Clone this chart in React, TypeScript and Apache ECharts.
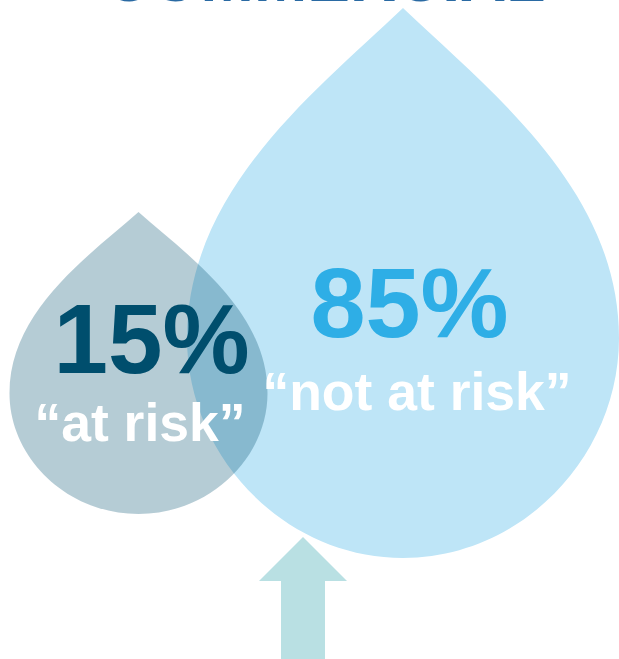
import React, { useEffect, useRef } from "react";
import * as echarts from "echarts";

const TITLE = "COMMERCIAL";
const SHARES = ["15%", "85%"];
const LABELS = ["“at risk”", "“not at risk”"];

// Unit drop on a 1000-unit grid: tip at (0,0), base at (0,1000), widest at x = ±1000.
const DROP_PATH =
  "M0 0 C400 150 1000 330 1000 600 C1000 815 550 1000 0 1000 C-550 1000 -1000 815 -1000 600 C-1000 330 -400 150 0 0 Z";
const ARROW_PATH = "M303 537 L347 581 L325 581 L325 659 L281 659 L281 581 L259 581 Z";

echarts.graphic.registerShape("drop", echarts.graphic.extendPath(DROP_PATH, {}));
echarts.graphic.registerShape("upArrow", echarts.graphic.extendPath(ARROW_PATH, {}));

const FONT = '"Liberation Sans", Arial, sans-serif';

// Places a bold label by its baseline; text boxes are anchored at their top edge.
function label(text: string, x: number, baseline: number, size: number, fill: string) {
  return {
    type: "text",
    x,
    y: baseline - 0.88 * size,
    z: 10,
    style: { text, fill, font: `bold ${size}px ${FONT}`, align: "center" },
  };
}

export default function App() {
  const ref = useRef<HTMLDivElement>(null);

  useEffect(() => {
    document.body.style.margin = "0";
    const chart = echarts.init(ref.current!, undefined, { renderer: "svg" });
    chart.setOption({
      animation: false,
      graphic: {
        elements: [
          label(TITLE, 325, 3, 64, "#2a6aa3"),
          {
            type: "drop",
            x: 403,
            y: 8,
            scaleX: 216 / 1000,
            scaleY: 550 / 1000,
            z: 1,
            style: { fill: "#bee5f7" },
          },
          {
            type: "drop",
            x: 138.5,
            y: 212,
            scaleX: 128.5 / 1000,
            scaleY: 302 / 1000,
            z: 2,
            style: { fill: "rgba(0,78,109,0.29)" },
          },
          { type: "upArrow", z: 1, style: { fill: "#b9e0e3" } },
          label(SHARES[0], 151.5, 376, 98, "#004e6d"),
          label(LABELS[0], 140, 443, 53.5, "#ffffff"),
          label(SHARES[1], 409.5, 340, 99, "#2eaee6"),
          label(LABELS[1], 417, 412, 53.5, "#ffffff"),
        ],
      },
    });
    return () => chart.dispose();
  }, []);

  return <div ref={ref} style={{ width: 619, height: 659 }} />;
}
